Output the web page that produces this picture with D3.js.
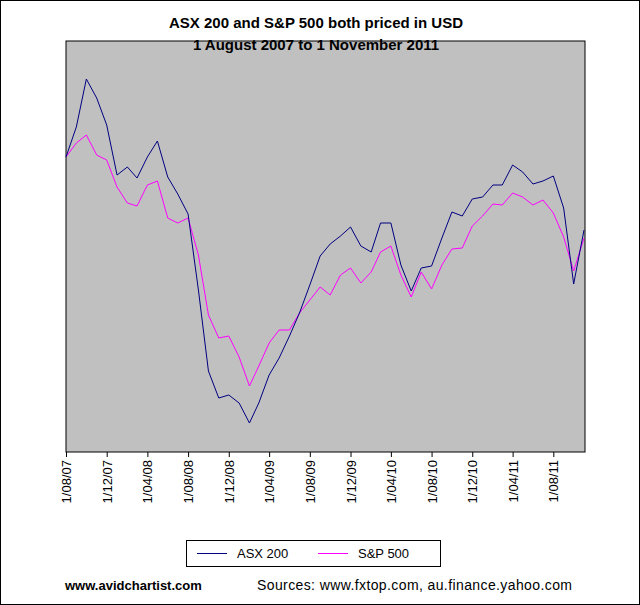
<!DOCTYPE html>
<html>
<head>
<meta charset="utf-8">
<script src="https://d3js.org/d3.v7.min.js"></script>
<style>
  body { margin: 0; font-family: Arial, "Liberation Sans", sans-serif; background: #fff; }
</style>
</head>
<body>
<script>
// monthly, 1 Aug 2007 .. 1 Nov 2011 (52 months); values in relative units
const startMonth = new Date(2007, 7, 1);
const asx = [295,325,373,354,327,277,285,274,295,311,275,258,238,162,81,54,57,49,29,49,77,94,116,139,167,196,208,216,225,206,200,229,229,187,161,184,186,214,240,236,253,255,267,267,287,280,268,271,276,244,168,222];
const spx = [295,309,317,297,292,265,249,246,267,271,234,229,234,197,137,114,116,95,66,86,109,122,122,139,152,165,157,177,184,169,180,200,206,177,155,180,163,187,203,204,226,236,248,247,259,255,247,252,239,215,181,214];
const tickLabels = ["1/08/07","1/12/07","1/04/08","1/08/08","1/12/08","1/04/09","1/08/09","1/12/09","1/04/10","1/08/10","1/12/10","1/04/11","1/08/11"];
const titleLines = ["ASX 200 and S&P 500 both priced in USD", "1 August 2007 to 1 November 2011"];

const W = 640, H = 605;
const svg = d3.select("body").append("svg").attr("width", W).attr("height", H);
svg.append("rect").attr("x", 0.5).attr("y", 0.5).attr("width", W - 1).attr("height", H - 1)
  .attr("fill", "#fff").attr("stroke", "#000");

const plot = { x0: 66, x1: 585, y0: 41, y1: 452 };
const dates = asx.map((d, i) => d3.timeMonth.offset(startMonth, i));
const x = d3.scaleTime().domain([dates[0], dates[dates.length - 1]]).range([plot.x0, plot.x1 - 1]);
const y = d3.scaleLinear().domain([0, 411]).range([plot.y1, plot.y0]);

svg.append("rect").attr("x", plot.x0).attr("y", plot.y0)
  .attr("width", plot.x1 - plot.x0).attr("height", plot.y1 - plot.y0)
  .attr("fill", "#c0c0c0").attr("stroke", "#000");

titleLines.forEach((t, i) => {
  svg.append("text").attr("x", 316).attr("y", 28 + i * 22).attr("text-anchor", "middle")
    .attr("font-size", 15).attr("font-weight", "bold").text(t);
});

const tickDates = tickLabels.map((t, i) => d3.timeMonth.offset(startMonth, i * 4));
const axis = d3.axisBottom(x).tickValues(tickDates).tickSize(5).tickFormat((d, i) => tickLabels[i]);
const gx = svg.append("g").attr("transform", `translate(0,${plot.y1})`).call(axis);
gx.select(".domain").remove();
gx.selectAll("line").attr("stroke", "#000");
gx.selectAll("text").attr("font-size", 13).attr("font-family", "Arial, sans-serif")
  .attr("transform", "rotate(-90)").attr("text-anchor", "end")
  .attr("x", -8).attr("y", 0).attr("dy", "0.35em");

const line = d3.line().x((d, i) => x(dates[i])).y(d => y(d));
svg.append("path").datum(spx).attr("d", line).attr("fill", "none").attr("stroke", "#ff00ff").attr("stroke-width", 1);
svg.append("path").datum(asx).attr("d", line).attr("fill", "none").attr("stroke", "#000080").attr("stroke-width", 1);

// legend
const lg = svg.append("g");
lg.append("rect").attr("x", 186.5).attr("y", 540.5).attr("width", 254).attr("height", 26)
  .attr("fill", "#fff").attr("stroke", "#000");
[["ASX 200", "#000080", 197], ["S&P 500", "#ff00ff", 318]].forEach(([name, c, lx]) => {
  lg.append("line").attr("x1", lx).attr("x2", lx + 30).attr("y1", 553.5).attr("y2", 553.5).attr("stroke", c);
  lg.append("text").attr("x", lx + 40).attr("y", 558).attr("font-size", 13).text(name);
});

svg.append("text").attr("x", 65).attr("y", 590).attr("font-size", 13).attr("font-weight", "bold").text("www.avidchartist.com");
svg.append("text").attr("x", 257).attr("y", 590).attr("font-size", 14).attr("textLength", 315).text("Sources: www.fxtop.com, au.finance.yahoo.com");
</script>
</body>
</html>
